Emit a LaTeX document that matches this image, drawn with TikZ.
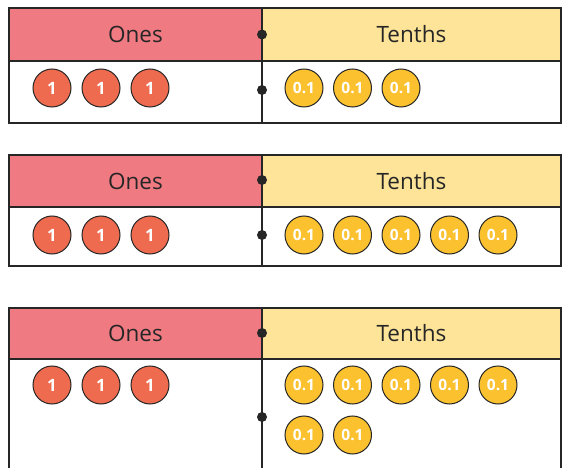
\documentclass[tikz,border=0pt]{standalone}
\usepackage{fontspec}
\setmainfont{Open Sans}
\usetikzlibrary{positioning}
\definecolor{onespink}{HTML}{F07A82}
\definecolor{tenthsyellow}{HTML}{FEE498}
\definecolor{onesred}{HTML}{EE6B4F}
\definecolor{tenthsgold}{HTML}{FBC12E}
\definecolor{rule}{HTML}{262626}
\tikzset{
    every node/.style={align=center,},
    onescell/.style={draw=rule,line width=2pt,fill=onespink,rectangle,inner sep=0pt,outer sep=0pt,minimum width=253pt,font=\fontsize{22.5}{26}\selectfont,text=rule},
    tenthscell/.style={draw=rule,line width=2pt,fill=tenthsyellow,rectangle,inner sep=0pt,outer sep=0pt,minimum width=299pt,font=\fontsize{22.5}{26}\selectfont,text=rule},
    onecounter/.style={draw=rule,line width=1pt,circle,fill=onesred,minimum size=38pt,inner sep=0pt,text=white,font=\bfseries\fontsize{17}{18}\selectfont},
    tenthcounter/.style={draw=rule,line width=1pt,circle,fill=tenthsgold,minimum size=38pt,inner sep=0pt,text=white,font=\bfseries\fontsize{15.5}{18}\selectfont},
    pointdot/.style={circle,fill=rule,inner sep=0pt,minimum size=10pt},
}

\begin{document}
\begin{tikzpicture}[x=1pt,y=-1pt]
    \useasboundingbox (0,0) rectangle (563,468);

    % table 1
    \node[onescell,minimum height=53pt,anchor=north west] (onesA) at (9,8) {Ones};
    \node[tenthscell,minimum height=53pt,anchor=north west] (tenthsA) at (262,8) {Tenths};
    \draw[rule,line width=2pt] (onesA.south west) -- ++(0,62) coordinate (blA) -| (tenthsA.south east);
    \draw[rule,line width=2pt] (onesA.south east) -- ++(0,62) coordinate (midA);
    \node[pointdot] (hdotA) at (onesA.east) {};
    \node[pointdot] (rdotA) at (262,90) {};
    \foreach \i in {0,1,2}
        \node[onecounter] (oneA\i) at (52+49*\i,88) {1};
    \foreach \i in {0,1,2}
        \node[tenthcounter] (tenthA\i) at (304+48.5*\i,88) {0.1};

    % table 2
    \node[onescell,minimum height=52pt,anchor=north west] (onesB) at (9,155) {Ones};
    \node[tenthscell,minimum height=52pt,anchor=north west] (tenthsB) at (262,155) {Tenths};
    \draw[rule,line width=2pt] (onesB.south west) -- ++(0,59) coordinate (blB) -| (tenthsB.south east);
    \draw[rule,line width=2pt] (onesB.south east) -- ++(0,59) coordinate (midB);
    \node[pointdot] (hdotB) at (262,180) {};
    \node[pointdot] (rdotB) at (262,235) {};
    \foreach \i in {0,1,2}
        \node[onecounter] (oneB\i) at (52+49*\i,235) {1};
    \foreach \i in {0,...,4}
        \node[tenthcounter] (tenthB\i) at (304+48.5*\i,235) {0.1};

    % table 3
    \node[onescell,minimum height=51pt,anchor=north west] (onesC) at (9,308) {Ones};
    \node[tenthscell,minimum height=51pt,anchor=north west] (tenthsC) at (262,308) {Tenths};
    \draw[rule,line width=2pt] (onesC.south west) -- ++(0,110) coordinate (blC);
    \draw[rule,line width=2pt] (onesC.south east) -- ++(0,110) coordinate (midC);
    \draw[rule,line width=2pt] (tenthsC.south east) -- ++(0,110) coordinate (brC);
    \draw[black!25,line width=1pt] (blC) -- (brC);
    \node[pointdot] (hdotC) at (262,333) {};
    \node[pointdot] (rdotC) at (262,417) {};
    \foreach \i in {0,1,2}
        \node[onecounter] (oneC\i) at (52+49*\i,385) {1};
    \foreach \i in {0,...,4}
        \node[tenthcounter] (tenthC\i) at (304+48.5*\i,385) {0.1};
    \foreach \i in {0,1}
        \node[tenthcounter] (tenthD\i) at (304+48.5*\i,435) {0.1};
\end{tikzpicture}
\end{document}
